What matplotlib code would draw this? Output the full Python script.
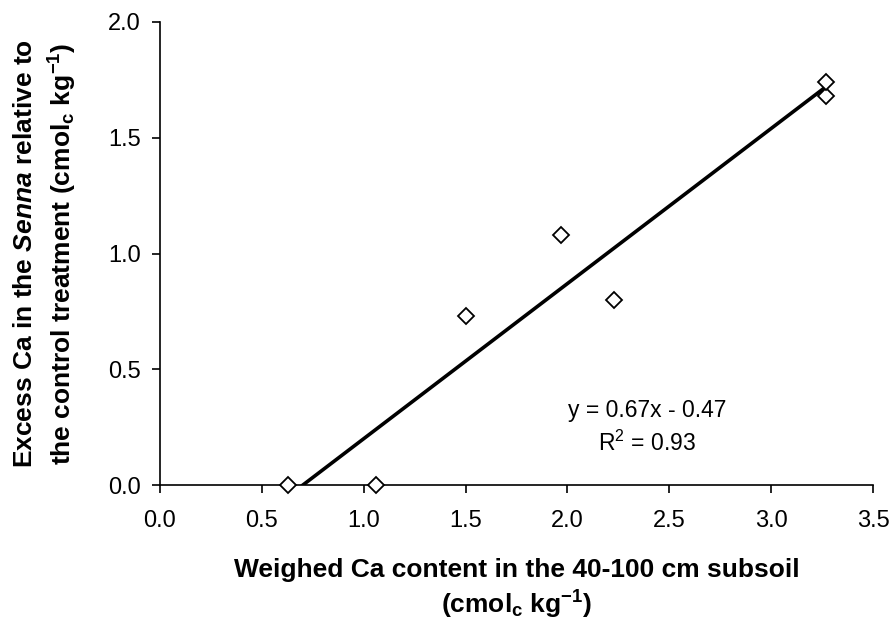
import numpy as np
import matplotlib.pyplot as plt

plt.rcParams['font.family'] = ['Liberation Sans', 'DejaVu Sans']
plt.rcParams['mathtext.fontset'] = 'custom'
plt.rcParams['mathtext.rm'] = 'Liberation Sans:bold'
plt.rcParams['mathtext.it'] = 'Liberation Sans:italic:bold'
plt.rcParams['mathtext.bf'] = 'Liberation Sans:bold'

# data
ca_subsoil = [0.63, 1.06, 1.50, 1.97, 2.23, 3.27, 3.27]
excess_ca = [0.0, 0.0, 0.73, 1.08, 0.80, 1.68, 1.74]
slope = 0.67
intercept = -0.47
r2 = 0.93
xticks = [0.0, 0.5, 1.0, 1.5, 2.0, 2.5, 3.0, 3.5]
yticks = [0.0, 0.5, 1.0, 1.5, 2.0]

fig = plt.figure(figsize=(8.91, 6.21), dpi=100)
ax = fig.add_axes([160 / 891, 1 - 485 / 621, 713 / 891, 463 / 621])

xl = np.array([-intercept / slope, max(ca_subsoil)])
ax.plot(xl, slope * xl + intercept, color="black", lw=2.6, zorder=2)
ax.plot(ca_subsoil, excess_ca, linestyle="none", marker="D", markersize=8,
        markerfacecolor="white", markeredgecolor="black", markeredgewidth=1.3,
        zorder=3, clip_on=False)

ax.text(2.39, 0.32, f"y = {slope}x - {abs(intercept)}", ha="center", va="center", fontsize=16.5)
ax.text(2.39, 0.18, r"R$\mathregular{^2}$" + f" = {r2}", ha="center", va="center", fontsize=16.5)

ax.set_xlim(0, 3.5)
ax.set_ylim(0, 2.0)
ax.set_xticks(xticks)
ax.set_yticks(yticks)
ax.set_xticklabels([f"{v:.1f}" for v in xticks])
ax.set_yticklabels([f"{v:.1f}" for v in yticks])
ax.tick_params(direction="out", length=6, width=1.2, labelsize=17)
ax.tick_params(axis="x", pad=12)
ax.tick_params(axis="y", pad=8)
for s in ["top", "right"]:
    ax.spines[s].set_visible(False)
for s in ["left", "bottom"]:
    ax.spines[s].set_linewidth(1.2)

ax.set_xlabel("Weighed Ca content in the 40-100 cm subsoil\n" + r"(cmol$_\mathrm{c}$ kg$^{-1}$)",
              fontsize=19, fontweight="bold", linespacing=1.3)
ax.set_ylabel(r"Excess Ca in the $\it{Senna}$ relative to" + "\n" +
              r"the control treatment (cmol$_\mathrm{c}$ kg$^{-1}$)",
              fontsize=19, fontweight="bold", linespacing=1.4)
ax.xaxis.set_label_coords(0.5, -0.157)
ax.yaxis.set_label_coords(-0.113, 0.5)

fig.savefig("out.png", dpi=100)
